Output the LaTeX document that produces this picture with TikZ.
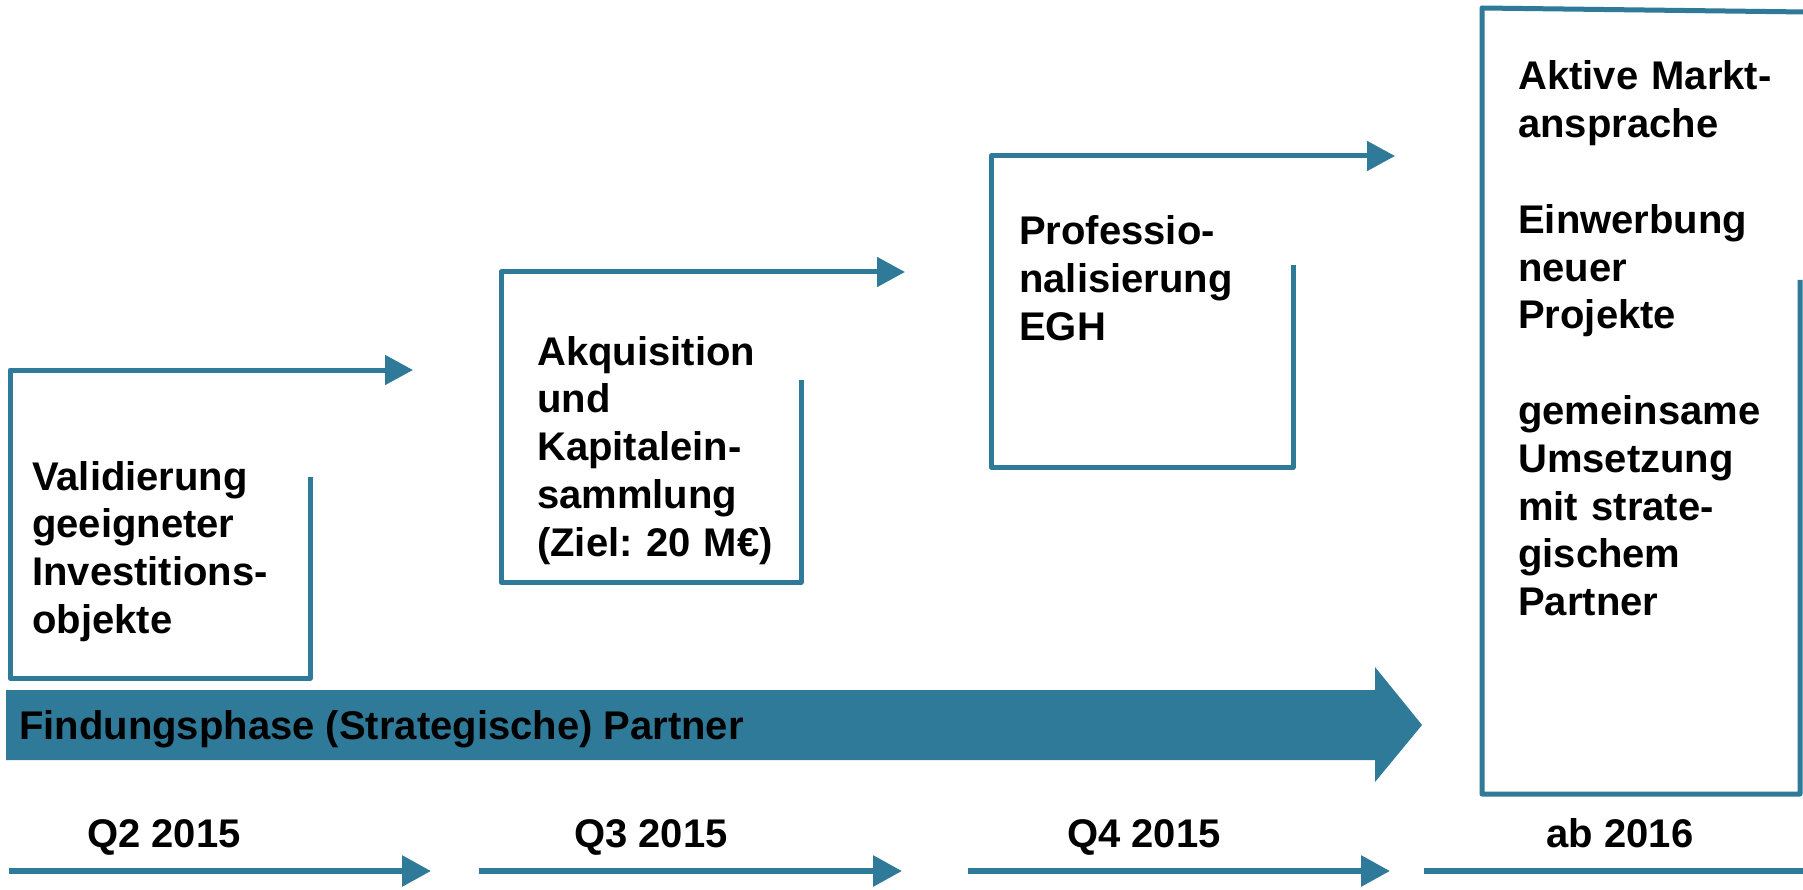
\documentclass[tikz,border=0pt]{standalone}
\usepackage{fontspec}
\setmainfont{Liberation Sans}
\usetikzlibrary{arrows.meta}
\definecolor{teal}{HTML}{2E7A98}
\frenchspacing
\tikzset{
  boxline/.style={draw=teal, line width=5pt, line join=round, line cap=butt},
  boxarrow/.style={boxline, -{Triangle[length=28pt,width=29pt]}},
  timearrow/.style={draw=teal, line width=6pt, -{Triangle[length=29pt,width=30pt]}},
  txt/.style={anchor=base west, inner sep=0pt, text width=400pt, align=left,
    font=\fontsize{40}{47.8}\selectfont\bfseries\frenchspacing},
  lbl/.style={anchor=base, inner sep=0pt, font=\fontsize{40}{48}\selectfont\bfseries}
}
\begin{document}
\begin{tikzpicture}[x=1pt,y=-1pt]
\useasboundingbox (0,0) rectangle (1803,890);
\fill[white] (0,0) rectangle (1803,890);

% open boxes with arrows
\draw[boxarrow] (310,477) -- (310,678) -- (10,678) -- (10,370) -- (413,370);
\draw[boxarrow] (801,380) -- (801,582) -- (501,582) -- (501,272) -- (905,272);
\draw[boxarrow] (1293,265) -- (1293,467) -- (991,467) -- (991,156) -- (1395,156);
\draw[boxline] (1800,280) -- (1800,794) -- (1482,794) -- (1482,8) -- (1806,12);

% texts
\node[txt] (t1) at (32,490) {Validierung\\geeigneter\\Investitions-\\objekte};
\node[txt] (t2) at (537,365) {Akquisition\\und\\Kapitalein-\\sammlung\\(Ziel: 20 M€)};
\node[txt] (t3) at (1019,245) {Professio-\\nalisierung\\EGH};
\node[txt] (t4) at (1518,90) {Aktive Markt-\\ansprache\\[47.8pt]Einwerbung\\neuer\\Projekte\\[47.8pt]gemeinsame\\Umsetzung\\mit strate-\\gischem\\Partner};

% big phase arrow
\fill[teal] (6,690) -- (1375,690) -- (1375,667) -- (1422,725) -- (1375,782) -- (1375,760) -- (6,760) -- cycle;
\node[anchor=base west, inner sep=0pt, font=\fontsize{40}{48}\selectfont\bfseries] (phase) at (19,739) {Findungsphase (Strategische) Partner};

% timeline
\draw[timearrow] (9,871) -- (431,871);
\draw[timearrow] (479,871) -- (902,871);
\draw[timearrow] (968,871) -- (1390,871);
\draw[draw=teal, line width=6pt] (1424,871) -- (1806,871);

\node[lbl] (q2) at (164,847) {Q2 2015};
\node[lbl] (q3) at (651,847) {Q3 2015};
\node[lbl] (q4) at (1144,847) {Q4 2015};
\node[lbl] (ab) at (1620,847) {ab 2016};
\end{tikzpicture}
\end{document}
